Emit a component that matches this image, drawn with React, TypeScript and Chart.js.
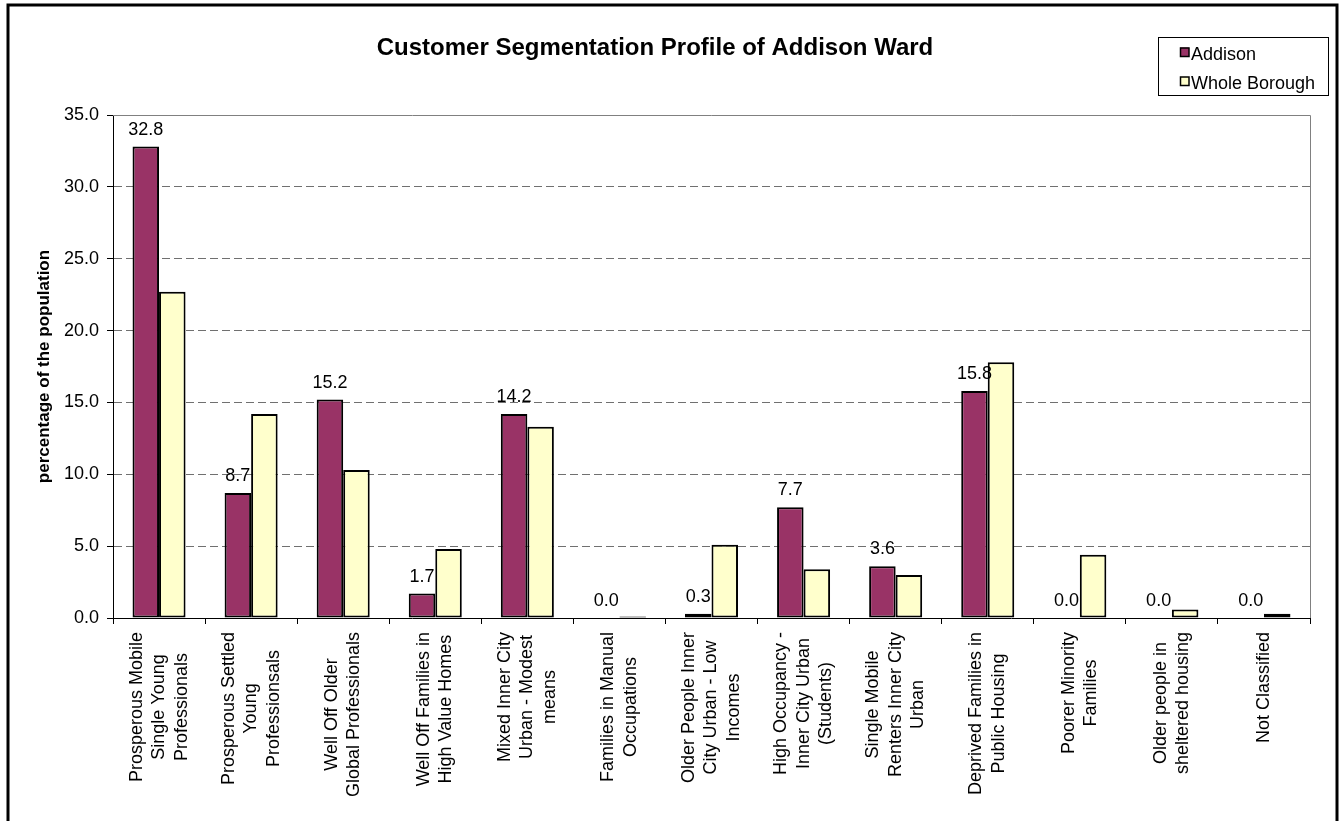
import React, { useEffect, useRef } from "react";
import { Chart, registerables } from "chart.js";

Chart.register(...registerables);

const chartTitle = "Customer Segmentation Profile of Addison Ward";
const yAxisTitle = "percentage of the population";

const categories: string[][] = [
  ["Prosperous Mobile", "Single Young", "Professionals"],
  ["Prosperous Settled", "Young", "Professionsals"],
  ["Well Off Older", "Global Professionals"],
  ["Well Off Families in", "High Value Homes"],
  ["Mixed Inner City", "Urban - Modest", "means"],
  ["Families in Manual", "Occupations"],
  ["Older People Inner", "City Urban - Low", "Incomes"],
  ["High Occupancy -", "Inner City Urban", "(Students)"],
  ["Single Mobile", "Renters Inner City", "Urban"],
  ["Deprived Families in", "Public Housing"],
  ["Poorer Minority", "Families"],
  ["Older people in", "sheltered housing"],
  ["Not Classified"],
];

const addisonValues = [32.8, 8.7, 15.2, 1.7, 14.2, 0.0, 0.3, 7.7, 3.6, 15.8, 0.0, 0.0, 0.0];
const boroughValues = [22.7, 14.2, 10.3, 4.8, 13.3, 0.1, 5.1, 3.4, 3.0, 17.8, 4.4, 0.6, 0.3];

const seriesNames = ["Addison", "Whole Borough"];
const seriesColors = ["#993366", "#FFFFCC"];

const yMin = 0;
const yMax = 35;
const yStep = 5;

const FONT = "'Liberation Sans', Arial, Helvetica, sans-serif";

const W = 1341;
const H = 821;
const AREA_LEFT = 113;
const AREA_RIGHT = 1310;
const AREA_BOTTOM = 618;

const framePlugin = {
  id: "frame",
  beforeDatasetsDraw(chart: any) {
    const { ctx, chartArea } = chart;
    ctx.save();
    ctx.strokeStyle = "#808080";
    ctx.lineWidth = 1;
    ctx.beginPath();
    ctx.moveTo(chartArea.left, chartArea.top + 0.5);
    ctx.lineTo(chartArea.right + 0.5, chartArea.top + 0.5);
    ctx.lineTo(chartArea.right + 0.5, chartArea.bottom);
    ctx.stroke();
    ctx.restore();
  },
  afterDraw(chart: any) {
    const { ctx } = chart;
    ctx.save();
    ctx.strokeStyle = "#000";
    ctx.lineWidth = 3;
    ctx.strokeRect(8, 5, 1329, 900);
    ctx.restore();
  },
};

const legendPlugin = {
  id: "boxLegend",
  afterDraw(chart: any) {
    const { ctx } = chart;
    ctx.save();
    ctx.fillStyle = "#fff";
    ctx.fillRect(1158, 37.5, 170, 58);
    ctx.strokeStyle = "#000";
    ctx.lineWidth = 1;
    ctx.strokeRect(1158.5, 37.5, 170, 58);
    ctx.font = `18px ${FONT}`;
    ctx.textBaseline = "alphabetic";
    ctx.textAlign = "left";
    chart.data.datasets.forEach((ds: any, i: number) => {
      const rowY = 47.5 + i * 29;
      ctx.fillStyle = ds.backgroundColor;
      ctx.fillRect(1180, rowY, 9, 9);
      ctx.strokeStyle = "#000";
      ctx.lineWidth = 1.5;
      ctx.strokeRect(1180.5, rowY + 0.5, 8.5, 8.5);
      ctx.fillStyle = "#000";
      ctx.fillText(ds.label, 1191, rowY + 12);
    });
    ctx.restore();
  },
};

const xLabelPlugin = {
  id: "xLabels",
  afterDraw(chart: any) {
    const { ctx } = chart;
    const xs = chart.scales.x;
    const labels = chart.data.labels as string[][];
    ctx.save();
    ctx.font = `18px ${FONT}`;
    ctx.fillStyle = "#000";
    ctx.textAlign = "center";
    ctx.textBaseline = "middle";
    const lineH = 22.5;
    labels.forEach((lines, i) => {
      const cx = xs.getPixelForTick(i);
      const maxW = Math.max(...lines.map((l) => ctx.measureText(l).width));
      const cy = 632 + maxW / 2;
      ctx.save();
      ctx.translate(cx, cy);
      ctx.rotate(-Math.PI / 2);
      const n = lines.length;
      lines.forEach((line, j) => {
        ctx.fillText(line, 0, (j - (n - 1) / 2) * lineH);
      });
      ctx.restore();
    });
    ctx.restore();
  },
};

const dataLabelPlugin = {
  id: "addisonLabels",
  afterDatasetDraw(chart: any, args: any) {
    if (args.index !== 0) return;
    const { ctx } = chart;
    const meta = args.meta;
    const ds = chart.data.datasets[0];
    ctx.save();
    ctx.font = `18px ${FONT}`;
    ctx.fillStyle = "#000";
    ctx.textAlign = "center";
    ctx.textBaseline = "alphabetic";
    meta.data.forEach((bar: any, i: number) => {
      const v = ds.data[i] as number;
      ctx.fillText(v.toFixed(1), bar.x, bar.y - 12);
    });
    ctx.restore();
  },
};

export default function App() {
  const canvasRef = useRef<HTMLCanvasElement | null>(null);

  useEffect(() => {
    const canvas = canvasRef.current;
    if (!canvas) return;
    Chart.defaults.font.family = FONT;
    const chart = new Chart(canvas, {
      type: "bar",
      data: {
        labels: categories,
        datasets: [
          {
            label: seriesNames[0],
            data: addisonValues,
            backgroundColor: seriesColors[0],
            borderColor: "#000",
            borderWidth: 2,
            borderSkipped: false,
            categoryPercentage: 0.576,
            barPercentage: 1.0,
          },
          {
            label: seriesNames[1],
            data: boroughValues,
            backgroundColor: seriesColors[1],
            borderColor: "#000",
            borderWidth: 2,
            borderSkipped: false,
            categoryPercentage: 0.576,
            barPercentage: 1.0,
          },
        ],
      },
      options: {
        responsive: false,
        animation: false,
        devicePixelRatio: 1,
        layout: { padding: { left: 0, right: W - AREA_RIGHT, top: 0, bottom: 0 } },
        plugins: {
          legend: { display: false },
          tooltip: { enabled: false },
          title: {
            display: true,
            text: chartTitle,
            color: "#000",
            font: { size: 24, weight: "bold", family: FONT, lineHeight: 1.2 },
            padding: { top: 33.6, bottom: 52.6 },
          },
        },
        scales: {
          x: {
            offset: true,
            grid: {
              display: true,
              offset: true,
              drawOnChartArea: false,
              drawTicks: true,
              tickLength: 6,
              tickColor: "#000",
              tickWidth: 1,
            },
            border: { display: true, color: "#000", width: 1 },
            ticks: { display: false },
            afterFit(scale: any) {
              scale.height = H - AREA_BOTTOM;
            },
          },
          y: {
            min: yMin,
            max: yMax,
            ticks: {
              stepSize: yStep,
              color: "#000",
              font: { size: 18, family: FONT },
              padding: 8,
              callback: (v: any) => Number(v).toFixed(1),
            },
            grid: {
              color: "#707070",
              lineWidth: 1,
              drawTicks: true,
              tickLength: 6,
              tickColor: "#000",
              tickWidth: 1,
              tickBorderDash: [],
            },
            border: { display: true, color: "#000", width: 1, dash: [8, 4] },
            title: {
              display: true,
              text: yAxisTitle,
              color: "#000",
              font: { size: 17, weight: "bold", family: FONT, lineHeight: 1.2 },
              padding: { top: 34, bottom: 0 },
            },
            afterFit(scale: any) {
              scale.width = AREA_LEFT;
            },
          },
        },
      },
      plugins: [framePlugin, dataLabelPlugin, xLabelPlugin, legendPlugin],
    } as any);
    return () => chart.destroy();
  }, []);

  return (
    <div style={{ position: "absolute", left: 0, top: 0, width: W, height: H, background: "#fff" }}>
      <canvas ref={canvasRef} width={W} height={H} style={{ display: "block", width: W, height: H }} />
    </div>
  );
}
